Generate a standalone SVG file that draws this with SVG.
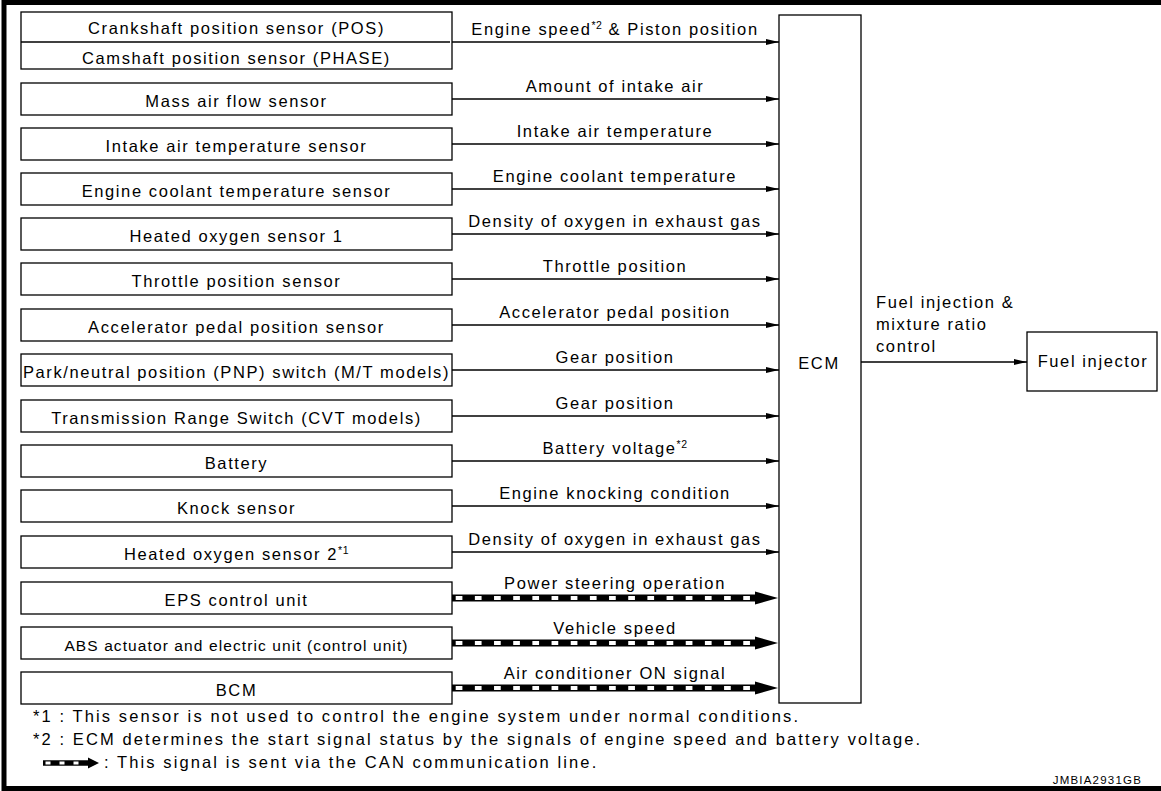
<svg xmlns="http://www.w3.org/2000/svg" xmlns:xlink="http://www.w3.org/1999/xlink" width="1161" height="791" viewBox="0 0 1161 791">
<style>
text{font-family:"Liberation Sans",Arial,sans-serif;fill:#000}
.t{font-size:16.5px;letter-spacing:1.6px;text-anchor:middle}
.s{font-size:15.5px;letter-spacing:1.1px;text-anchor:middle}
.lg{font-size:16.5px;letter-spacing:1.6px}
.ft{font-size:16.5px;letter-spacing:2.1px}
.sup{font-size:10.5px;letter-spacing:0.5px}
.box{fill:#fff;stroke:#000;stroke-width:1.3}
.ln{stroke:#000;stroke-width:1.3;fill:none}
</style>
<defs>
<marker id="ah" markerUnits="userSpaceOnUse" markerWidth="14" markerHeight="8" refX="13" refY="3" orient="auto">
<path d="M0,0 L13,3 L0,6 z" fill="#000"/>
</marker>
<g id="can">
<line x1="452" y1="0" x2="760" y2="0" stroke="#000" stroke-width="7"/>
<line x1="455.7" y1="0" x2="751" y2="0" stroke="#fff" stroke-width="4" stroke-dasharray="6.7 12.47"/>
<polygon points="755,-6.5 778,0 755,6.5" fill="#000"/>
</g>
</defs>
<rect x="4" y="2.5" width="1175" height="786" fill="#fff" stroke="#000" stroke-width="5"/>

<g id="crank-cam">
<rect class="box" x="21" y="12" width="431" height="57"/>
<line class="ln" x1="21" y1="42" x2="450" y2="42"/>
<text class="t" x="236.5" y="34">Crankshaft position sensor (POS)</text>
<text class="t" x="236.5" y="64">Camshaft position sensor (PHASE)</text>
</g>
<g id="maf"><rect class="box" x="21" y="83" width="431" height="32"/><text class="t" x="236.5" y="107">Mass air flow sensor</text></g>
<g id="iat"><rect class="box" x="21" y="128" width="431" height="32"/><text class="t" x="236.5" y="152">Intake air temperature sensor</text></g>
<g id="ect"><rect class="box" x="21" y="173" width="431" height="32"/><text class="t" x="236.5" y="197">Engine coolant temperature sensor</text></g>
<g id="ho2s1"><rect class="box" x="21" y="218" width="431" height="32"/><text class="t" x="236.5" y="242">Heated oxygen sensor 1</text></g>
<g id="tps"><rect class="box" x="21" y="263" width="431" height="32"/><text class="t" x="236.5" y="287">Throttle position sensor</text></g>
<g id="apps"><rect class="box" x="21" y="309" width="431" height="32"/><text class="t" x="236.5" y="333">Accelerator pedal position sensor</text></g>
<g id="pnp"><rect class="box" x="21" y="354" width="431" height="32"/><text class="t" x="236.5" y="378">Park/neutral position (PNP) switch (M/T models)</text></g>
<g id="trs"><rect class="box" x="21" y="400" width="431" height="32"/><text class="t" x="236.5" y="424">Transmission Range Switch (CVT models)</text></g>
<g id="battery"><rect class="box" x="21" y="445" width="431" height="32"/><text class="t" x="236.5" y="469">Battery</text></g>
<g id="knock"><rect class="box" x="21" y="490" width="431" height="32"/><text class="t" x="236.5" y="514">Knock sensor</text></g>
<g id="ho2s2"><rect class="box" x="21" y="536" width="431" height="32"/><text class="t" x="236.5" y="560">Heated oxygen sensor 2<tspan class="sup" dy="-6">*1</tspan></text></g>
<g id="eps"><rect class="box" x="21" y="582" width="431" height="32"/><text class="t" x="236.5" y="606">EPS control unit</text></g>
<g id="abs"><rect class="box" x="21" y="627" width="431" height="32"/><text class="s" x="236.5" y="651">ABS actuator and electric unit (control unit)</text></g>
<g id="bcm"><rect class="box" x="21" y="672" width="431" height="32"/><text class="t" x="236.5" y="696">BCM</text></g>

<g id="ecm"><rect class="box" x="779" y="15" width="82" height="688"/><text class="t" x="819" y="369">ECM</text></g>
<g id="injector"><rect class="box" x="1027" y="332" width="130" height="59"/><text class="t" x="1093" y="367">Fuel injector</text></g>

<g id="connectors">
<line class="ln" x1="452" y1="42" x2="779" y2="42" marker-end="url(#ah)"/>
<line class="ln" x1="452" y1="99" x2="779" y2="99" marker-end="url(#ah)"/>
<line class="ln" x1="452" y1="144" x2="779" y2="144" marker-end="url(#ah)"/>
<line class="ln" x1="452" y1="189" x2="779" y2="189" marker-end="url(#ah)"/>
<line class="ln" x1="452" y1="234" x2="779" y2="234" marker-end="url(#ah)"/>
<line class="ln" x1="452" y1="279" x2="779" y2="279" marker-end="url(#ah)"/>
<line class="ln" x1="452" y1="325" x2="779" y2="325" marker-end="url(#ah)"/>
<line class="ln" x1="452" y1="370" x2="779" y2="370" marker-end="url(#ah)"/>
<line class="ln" x1="452" y1="416" x2="779" y2="416" marker-end="url(#ah)"/>
<line class="ln" x1="452" y1="461" x2="779" y2="461" marker-end="url(#ah)"/>
<line class="ln" x1="452" y1="506" x2="779" y2="506" marker-end="url(#ah)"/>
<line class="ln" x1="452" y1="552" x2="779" y2="552" marker-end="url(#ah)"/>
<use xlink:href="#can" y="598"/>
<use xlink:href="#can" y="643"/>
<use xlink:href="#can" y="688"/>
<line class="ln" x1="861" y1="362" x2="1027" y2="362" marker-end="url(#ah)"/>

<text class="t" x="615" y="35">Engine speed<tspan class="sup" dy="-6">*2</tspan><tspan dy="6"> &amp; Piston position</tspan></text>
<text class="t" x="615" y="92">Amount of intake air</text>
<text class="t" x="615" y="137">Intake air temperature</text>
<text class="t" x="615" y="182">Engine coolant temperature</text>
<text class="t" x="615" y="227">Density of oxygen in exhaust gas</text>
<text class="t" x="615" y="272">Throttle position</text>
<text class="t" x="615" y="318">Accelerator pedal position</text>
<text class="t" x="615" y="363">Gear position</text>
<text class="t" x="615" y="409">Gear position</text>
<text class="t" x="615" y="454">Battery voltage<tspan class="sup" dy="-6">*2</tspan></text>
<text class="t" x="615" y="499">Engine knocking condition</text>
<text class="t" x="615" y="545">Density of oxygen in exhaust gas</text>
<text class="t" x="615" y="589">Power steering operation</text>
<text class="t" x="615" y="634">Vehicle speed</text>
<text class="t" x="615" y="679">Air conditioner ON signal</text>
<text class="lg" x="876" y="308">Fuel injection &amp;</text>
<text class="lg" x="876" y="330">mixture ratio</text>
<text class="lg" x="876" y="352">control</text>
</g>

<g id="legend">
<text class="ft" x="33" y="722">*1 : This sensor is not used to control the engine system under normal conditions.</text>
<text class="ft" x="33" y="745">*2 : ECM determines the start signal status by the signals of engine speed and battery voltage.</text>
<line x1="43" y1="763" x2="90" y2="763" stroke="#000" stroke-width="5.5"/>
<line x1="45.5" y1="763" x2="86" y2="763" stroke="#fff" stroke-width="3" stroke-dasharray="5 9"/>
<polygon points="88,757.5 99,763 88,768.5" fill="#000"/>
<text class="ft" x="104" y="768">: This signal is sent via the CAN communication line.</text>
<text x="1142" y="784" font-size="11.5" letter-spacing="1.2" text-anchor="end">JMBIA2931GB</text>
</g>
</svg>
